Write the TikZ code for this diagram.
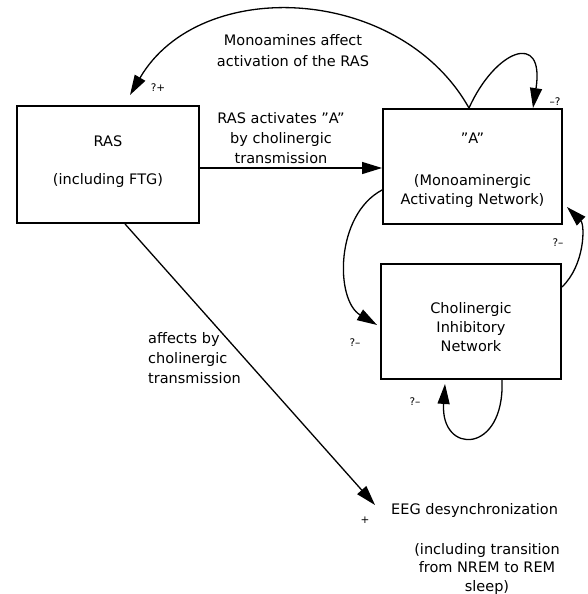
\documentclass[tikz,border=0pt]{standalone}
\usepackage{fontspec}
\setmainfont{DejaVu Sans}[Ligatures=TeX]
\usetikzlibrary{arrows.meta}
\begin{document}
\begin{tikzpicture}[x=1pt,y=-1pt,
  box/.style={draw, line width=1.9pt, inner sep=0pt},
  lbl/.style={font=\fontsize{14.5}{20}\selectfont, inner sep=0pt, align=center},
  small/.style={font=\fontsize{10.5}{12}\selectfont, inner sep=0pt},
  arr/.style={line width=1.3pt, -{Triangle[length=20pt,width=12pt]}},
  ln/.style={line width=1.3pt}]
\useasboundingbox (0,0) rectangle (587,594);
% boxes
\node[box, minimum width=182pt, minimum height=117pt] (ras) at (108,164.5) {};
\node[box, minimum width=179pt, minimum height=115pt] (A) at (472.5,166.5) {};
\node[box, minimum width=180pt, minimum height=115pt] (chol) at (471,321.5) {};
% box texts
\node[lbl] (rasT1) at (108,141) {RAS};
\node[lbl] (rasT2) at (108,180) {(including FTG)};
\node[lbl] (AT1) at (472.5,138) {''A''};
\node[lbl, font=\fontsize{14.5}{19}\selectfont] (AT2) at (472.5,191) {(Monoaminergic\\Activating Network)};
\node[lbl, font=\fontsize{14.5}{19}\selectfont] (cholT) at (471,327) {Cholinergic\\Inhibitory\\Network};
% other texts
\node[lbl, font=\fontsize{14.5}{21}\selectfont] (mono) at (293,50.5) {Monoamines affect\\activation of the RAS};
\node[lbl] (rasact) at (281,138) {RAS activates ''A''\\by cholinergic\\transmission};
\node[lbl, align=left, anchor=west] (affects) at (148,358) {affects by\\cholinergic\\transmission};
\node[lbl, anchor=west] (eeg) at (391,510) {EEG desynchronization};
\node[lbl, font=\fontsize{14.5}{18.5}\selectfont] (incl) at (487,568.5) {(including transition\\from NREM to REM\\sleep)};
% small signs
\node[small] (sPlusQ) at (158,88) {?+};
\node[small] (sMinusQ) at (555,102) {--?};
\node[small] (sQR) at (558,243) {?--};
\node[small] (sQL) at (355,343) {?--};
\node[small] (sQB) at (415,402) {?--};
\node[small] (sPlus) at (365,520) {+};
% connectors
\path ([yshift=-3.5pt]ras.east) coordinate (h1);
\draw[arr] (h1) -- (h1 -| A.west);
\coordinate (rastip) at (130,95);
\draw[arr] ([xshift=-3.5pt]A.north) .. controls (400,-15) and (200,-25) .. (rastip);
\draw[arr] ([xshift=-3.5pt]A.north) .. controls (495,50) and (545,30) .. ([xshift=60.5pt]A.north);
\draw[arr] ([yshift=-23.5pt]A.west) .. controls (335,215) and (335,300) .. ([xshift=-3pt,yshift=-3.5pt]chol.west);
\draw[arr] ([yshift=34.5pt]chol.east) .. controls (585,265) and (585,225) .. ([xshift=4pt,yshift=-40.5pt]A.east);
\draw[arr] ([xshift=31pt]chol.south) .. controls (505,455) and (440,455) .. ([xshift=-26pt,yshift=-4pt]chol.south);
\coordinate (eegtip) at (375,505);
\draw[arr] ([xshift=17pt]ras.south) -- (eegtip);
\end{tikzpicture}
\end{document}
